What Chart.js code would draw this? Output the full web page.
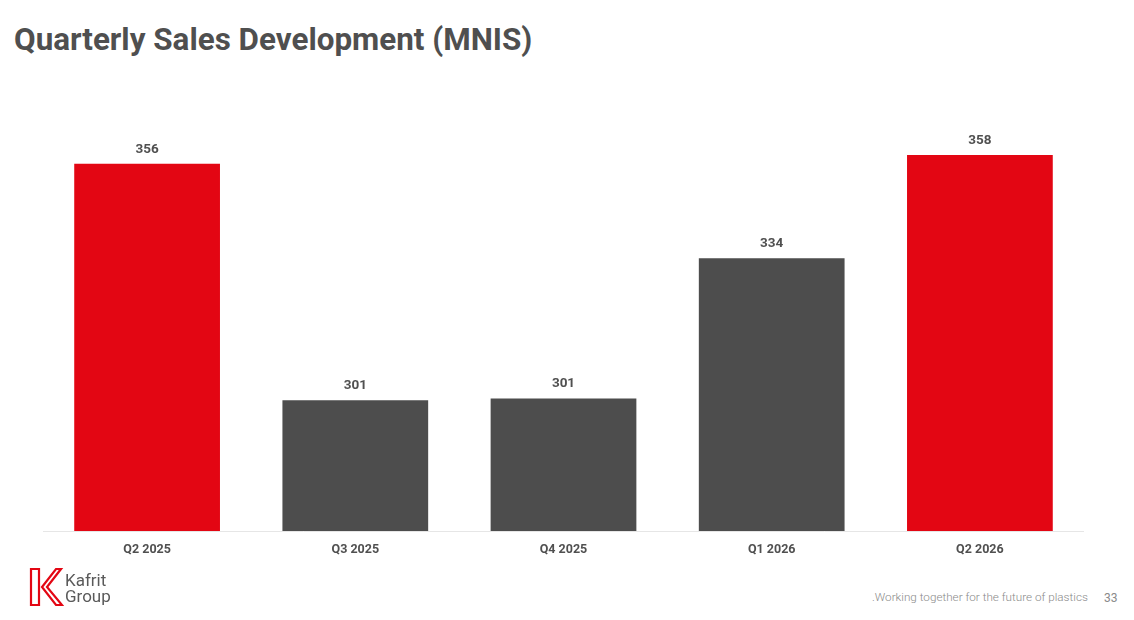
<!DOCTYPE html>
<html>
<head>
<meta charset="utf-8">
<script src="https://cdn.jsdelivr.net/npm/chart.js@4.4.1/dist/chart.umd.min.js"></script>
<style>
  body{margin:0;background:#fff;font-family:Roboto, "Noto Sans", sans-serif;}
  #page{position:relative;width:1134px;height:620px;overflow:hidden;}
  #title{position:absolute;left:14px;top:24px;font-size:31.4px;line-height:1;font-weight:700;color:#4f4f4f;margin:0;white-space:nowrap;}
  #wrap{position:absolute;left:43px;top:100px;width:1041px;height:471px;}
  #logo{position:absolute;left:28px;top:566px;}
  #brand{position:absolute;left:65px;top:572px;font-size:17px;line-height:16px;color:#5a5a5a;}
  #tagline{position:absolute;left:872px;top:590px;font-size:11.7px;font-weight:300;color:#8a8a8a;white-space:nowrap;}
  #pageno{position:absolute;left:1104px;top:591px;font-size:12px;color:#8a8a8a;}
</style>
</head>
<body>
<div id="page">
  <h1 id="title">Quarterly Sales Development (MNIS)</h1>
  <div id="wrap"><canvas id="salesChart"></canvas></div>
  <svg id="logo" width="36" height="42" viewBox="0 0 36 42">
    <path d="M3 3 H11 V39 H3 Z" fill="none" stroke="#e30613" stroke-width="2.2"/>
    <path d="M28 3 H33 L19 21 L34 39 H28 L14 21 Z" fill="none" stroke="#e30613" stroke-width="2.2"/>
  </svg>
  <div id="brand">Kafrit<br>Group</div>
  <div id="tagline">.Working together for the future of plastics</div>
  <div id="pageno">33</div>
</div>
<script>
// --- chart data ---
const quarters = ["Q2 2025", "Q3 2025", "Q4 2025", "Q1 2026", "Q2 2026"];
const sales = [356, 301, 301.4, 334, 358];
const barColors = ["#e30613", "#4d4d4d", "#4d4d4d", "#4d4d4d", "#e30613"];

// value labels above bars
const valueLabels = {
  id: "valueLabels",
  afterDatasetsDraw(chart){
    const ctx = chart.ctx;
    const meta = chart.getDatasetMeta(0);
    ctx.save();
    ctx.font = "700 13.5px Roboto";
    ctx.fillStyle = "#505050";
    ctx.textAlign = "center";
    ctx.textBaseline = "middle";
    meta.data.forEach((bar, i) => {
      ctx.fillText(Math.round(sales[i]), bar.x, bar.y - 14.5);
    });
    ctx.restore();
  }
};

new Chart(document.getElementById("salesChart"), {
  type: "bar",
  data: {
    labels: quarters,
    datasets: [{data: sales, backgroundColor: barColors, borderWidth: 0}]
  },
  options: {
    responsive: true,
    maintainAspectRatio: false,
    animation: false,
    layout: {padding: 0},
    plugins: {legend: {display: false}, tooltip: {enabled: false}},
    datasets: {bar: {categoryPercentage: 1, barPercentage: 0.70}},
    scales: {
      x: {
        grid: {display: false, drawTicks: false},
        border: {display: true, color: "#e6e6e6", width: 1},
        ticks: {color: "#505050", font: {family: "Roboto", size: 12.5, weight: "700"}, padding: 11},
        afterFit(scale){ scale.height = 40; }
      },
      y: {display: false, min: 270.6, max: 370.8}
    }
  },
  plugins: [valueLabels]
});
</script>
</body>
</html>
